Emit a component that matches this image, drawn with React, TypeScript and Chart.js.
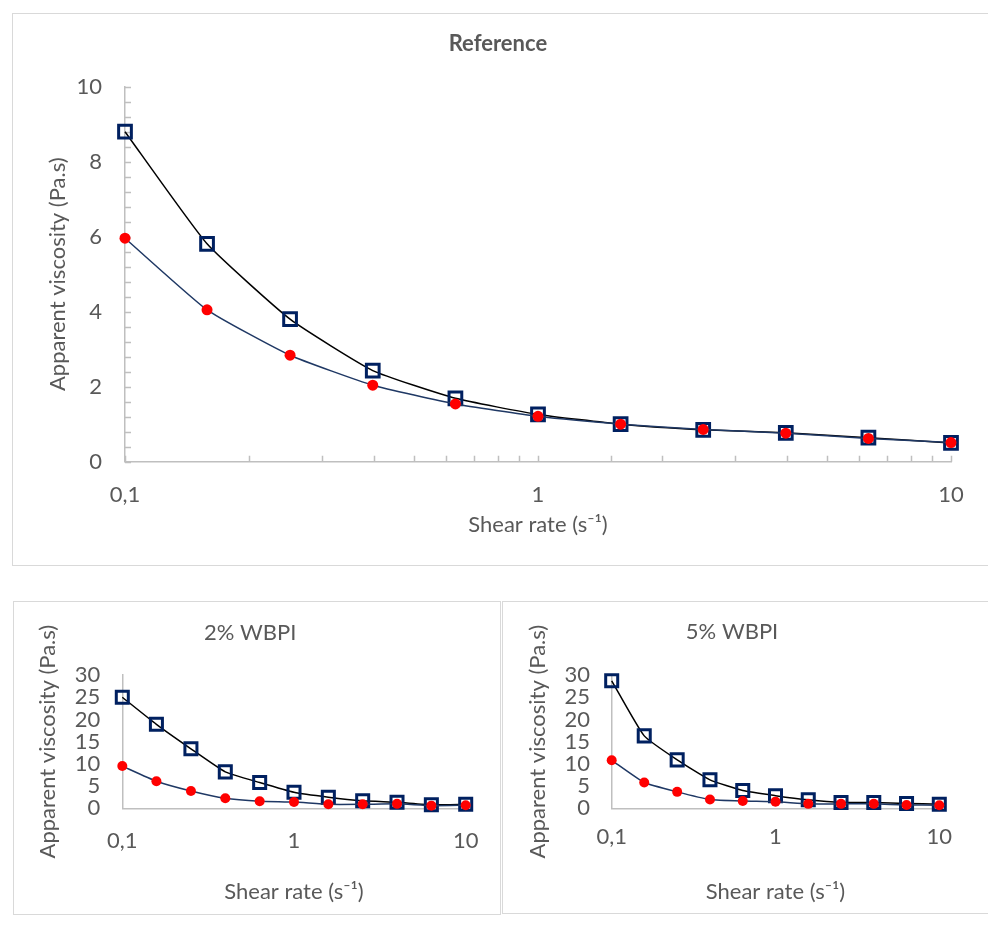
import React, { useEffect, useRef } from 'react';
import { Chart, registerables } from 'chart.js';

Chart.register(...registerables);

// ---- data ----
const shearRate = [0.1, 0.158, 0.251, 0.398, 0.631, 1, 1.585, 2.512, 3.981, 6.31, 10];
const refSquares = [8.8, 5.81, 3.8, 2.43, 1.69, 1.26, 1.0, 0.85, 0.77, 0.64, 0.5];
const refDots = [5.96, 4.05, 2.84, 2.04, 1.54, 1.21, 1.0, 0.86, 0.76, 0.62, 0.51];
const wbpi2Squares = [25.0, 18.9, 13.4, 8.2, 5.8, 3.6, 2.5, 1.7, 1.35, 0.8, 0.9];
const wbpi2Dots = [9.5, 6.1, 3.9, 2.25, 1.6, 1.4, 0.9, 0.9, 1.0, 0.6, 0.7];
const wbpi5Squares = [28.7, 16.3, 10.9, 6.4, 4.0, 2.85, 1.9, 1.3, 1.3, 1.1, 0.9];
const wbpi5Dots = [10.8, 5.8, 3.7, 2.0, 1.65, 1.5, 1.0, 1.0, 1.0, 0.75, 0.7];
const xTickValues = [0.1, 1, 10];
const xTickLabels = ['0,1', '1', '10'];
const yAxisTitle = 'Apparent viscosity (Pa.s)';
const xAxisTitle = 'Shear rate (s\u207B\u00B9)';

const FONT = 'Lato, "Open Sans", sans-serif';
const TEXT = '#595959';
const AXIS = '#bfbfbf';

const innerTicks = {
  id: 'innerTicks',
  beforeDatasetsDraw(chart: any) {
    const { ctx, chartArea, scales } = chart;
    const len = 6;
    ctx.save();
    ctx.strokeStyle = AXIS;
    ctx.lineWidth = 1.5;
    ctx.beginPath();
    scales.y.ticks.forEach((t: any) => {
      const py = Math.round(scales.y.getPixelForValue(t.value)) + 0.5;
      ctx.moveTo(chartArea.left, py);
      ctx.lineTo(chartArea.left + len, py);
    });
    scales.x.ticks.forEach((t: any) => {
      const px = Math.round(scales.x.getPixelForValue(t.value)) + 0.5;
      ctx.moveTo(px, chartArea.bottom);
      ctx.lineTo(px, chartArea.bottom - len);
    });
    ctx.stroke();
    ctx.restore();
  },
};

type Geo = {
  w: number; h: number;
  padLeft: number; yWidth: number; padRight: number;
  titlePadTop: number; titlePadBottom: number;
  padBottom: number; xHeight: number; xTitlePadBottom: number;
  yTickPad: number; xTickPad: number;
  fontSize: number; squareR: number; dotR: number;
};

type Props = {
  left: number; top: number; boxW: number; boxH: number;
  title: string; bold: boolean;
  squares: number[]; dots: number[];
  yMax: number; yStep: number; yLabelStep: number;
  ticksInside: boolean; geo: Geo;
};

function ViscosityChart(p: Props) {
  const ref = useRef<HTMLCanvasElement>(null);
  useEffect(() => {
    const g = p.geo;
    const isMult = (v: number, s: number) => Math.abs(v / s - Math.round(v / s)) < 1e-6;
    const chart = new Chart(ref.current as HTMLCanvasElement, {
      type: 'line',
      data: {
        datasets: [
          {
            data: shearRate.map((x, i) => ({ x, y: p.dots[i] })),
            borderColor: '#1f3864',
            borderWidth: 1.5,
            tension: 0.15,
            clip: false,
            pointStyle: 'circle',
            pointRadius: g.dotR,
            pointBackgroundColor: '#ff0000',
            pointBorderColor: '#ff0000',
            pointBorderWidth: 0,
          },
          {
            data: shearRate.map((x, i) => ({ x, y: p.squares[i] })),
            borderColor: '#000000',
            borderWidth: 1.5,
            tension: 0.15,
            clip: false,
            pointStyle: 'rect',
            pointRadius: g.squareR,
            pointBackgroundColor: 'rgba(0,0,0,0)',
            pointBorderColor: '#002060',
            pointBorderWidth: 3,
          },
        ],
      } as any,
      options: {
        responsive: false,
        animation: false,
        devicePixelRatio: 1,
        events: [],
        layout: { padding: { left: g.padLeft, right: g.padRight, top: 0, bottom: g.padBottom } },
        plugins: {
          legend: { display: false },
          tooltip: { enabled: false },
          title: {
            display: true,
            text: p.title,
            color: TEXT,
            font: { family: FONT, size: g.fontSize, weight: p.bold ? 'bold' : 'normal', lineHeight: 1.2 },
            padding: { top: g.titlePadTop, bottom: g.titlePadBottom },
          },
        },
        scales: {
          x: {
            type: 'logarithmic',
            min: 0.1,
            max: 10,
            grid: { display: false },
            border: { display: true, color: AXIS, width: 1.5 },
            ticks: {
              autoSkip: false,
              maxRotation: 0,
              padding: g.xTickPad,
              color: TEXT,
              font: { family: FONT, size: g.fontSize },
              callback: (v: any) => {
                const idx = xTickValues.findIndex((t) => Math.abs(Math.log10(Number(v)) - Math.log10(t)) < 1e-6);
                return idx >= 0 ? xTickLabels[idx] : '';
              },
            },
            title: {
              display: true,
              text: xAxisTitle,
              color: TEXT,
              font: { family: FONT, size: g.fontSize, lineHeight: 1.2 },
              padding: { top: 0, bottom: g.xTitlePadBottom },
            },
            afterFit: (s: any) => { s.height = g.xHeight; },
          },
          y: {
            type: 'linear',
            min: 0,
            max: p.yMax,
            grid: { display: false },
            border: { display: true, color: AXIS, width: 1.5 },
            ticks: {
              autoSkip: false,
              stepSize: p.yStep,
              padding: g.yTickPad,
              color: TEXT,
              font: { family: FONT, size: g.fontSize },
              callback: (v: any) => (isMult(Number(v), p.yLabelStep) ? String(Math.round(Number(v))) : ''),
            },
            title: {
              display: true,
              text: yAxisTitle,
              color: TEXT,
              font: { family: FONT, size: g.fontSize, lineHeight: 1.2 },
              padding: { top: 0, bottom: 0 },
            },
            afterFit: (s: any) => { s.width = g.yWidth; },
          },
        },
      } as any,
      plugins: p.ticksInside ? [innerTicks] : [],
    });
    return () => chart.destroy();
  }, []);
  return (
    <div
      style={{
        position: 'absolute',
        left: p.left,
        top: p.top,
        width: p.boxW,
        height: p.boxH,
        border: '1px solid #d9d9d9',
        boxSizing: 'border-box',
        background: '#fff',
      }}
    >
      <canvas ref={ref} width={p.geo.w} height={p.geo.h} style={{ display: 'block' }} />
    </div>
  );
}

export default function App() {
  return (
    <div style={{ position: 'relative', width: 980, height: 917 }}>
      <ViscosityChart
        left={4} top={5} boxW={977} boxH={553}
        title="Reference" bold={true}
        squares={refSquares} dots={refDots}
        yMax={10} yStep={0.4} yLabelStep={2}
        ticksInside={true}
        geo={{
          w: 975, h: 551,
          padLeft: 31.8, yWidth: 80.2, padRight: 37,
          titlePadTop: 17, titlePadBottom: 29.3,
          padBottom: 24, xHeight: 79.3, xTitlePadBottom: 2.8,
          yTickPad: 15, xTickPad: 12,
          fontSize: 22, squareR: 9, dotR: 5.5,
        }}
      />
      <ViscosityChart
        left={5} top={593} boxW={488} boxH={314}
        title="2% WBPI" bold={false}
        squares={wbpi2Squares} dots={wbpi2Dots}
        yMax={30} yStep={5} yLabelStep={5}
        ticksInside={false}
        geo={{
          w: 486, h: 312,
          padLeft: 20.8, yWidth: 87.5, padRight: 34.3,
          titlePadTop: 17.5, titlePadBottom: 29.1,
          padBottom: 9, xHeight: 96.7, xTitlePadBottom: 0,
          yTickPad: 14, xTickPad: 11,
          fontSize: 22, squareR: 8.5, dotR: 5,
        }}
      />
      <ViscosityChart
        left={494} top={593} boxW={487} boxH={313}
        title="5% WBPI" bold={false}
        squares={wbpi5Squares} dots={wbpi5Dots}
        yMax={30} yStep={5} yLabelStep={5}
        ticksInside={false}
        geo={{
          w: 485, h: 311,
          padLeft: 21.8, yWidth: 86.9, padRight: 48.7,
          titlePadTop: 16.8, titlePadBottom: 29.8,
          padBottom: 8.1, xHeight: 96.6, xTitlePadBottom: 0,
          yTickPad: 13.7, xTickPad: 7,
          fontSize: 22, squareR: 8.5, dotR: 5,
        }}
      />
    </div>
  );
}
